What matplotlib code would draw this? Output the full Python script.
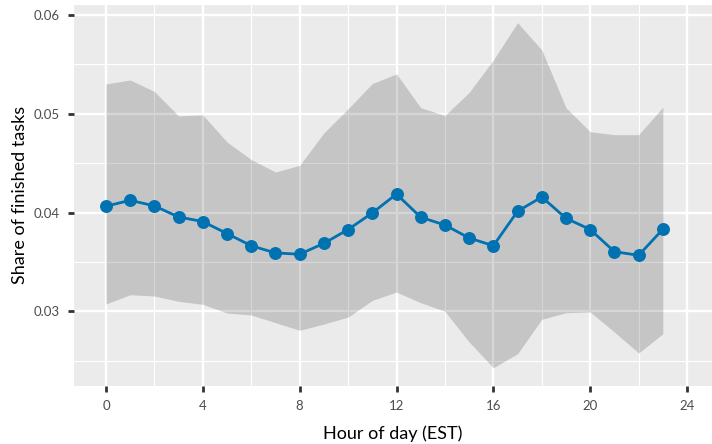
import matplotlib
matplotlib.use("Agg")
import matplotlib.pyplot as plt
import numpy as np
from matplotlib.ticker import MultipleLocator

hours = list(range(24))
share = [0.04064, 0.04124, 0.04067, 0.03955, 0.03909, 0.03787, 0.03664, 0.03591,
         0.03578, 0.03688, 0.03828, 0.03996, 0.04187, 0.03952, 0.03874, 0.03742,
         0.03664, 0.04013, 0.04157, 0.03942, 0.03828, 0.03604, 0.03567, 0.03831]
upper = [0.05302, 0.05342, 0.05226, 0.04978, 0.04988, 0.04714, 0.04536, 0.04410,
         0.04478, 0.04806, 0.05050, 0.05306, 0.05403, 0.05061, 0.04983, 0.05216,
         0.05545, 0.05922, 0.05646, 0.05061, 0.04818, 0.04788, 0.04788, 0.05067]
lower = [0.03074, 0.03168, 0.03155, 0.03101, 0.03071, 0.02983, 0.02963, 0.02885,
         0.02808, 0.02871, 0.02942, 0.03111, 0.03195, 0.03087, 0.03000, 0.02689,
         0.02429, 0.02571, 0.02919, 0.02986, 0.02993, 0.02790, 0.02578, 0.02773]
x_ticks = [0, 4, 8, 12, 16, 20, 24]
y_ticks = [0.03, 0.04, 0.05, 0.06]
y_ticklabels = ["0.03", "0.04", "0.05", "0.06"]

plt.rcParams['font.family'] = ['Lato', 'DejaVu Sans']

fig = plt.figure(figsize=(7.12, 4.44), dpi=100)
W, H = 712, 444
ax = fig.add_axes([74 / W, (H - 385.7) / H, (712 - 74) / W, (385.7 - 5) / H])
ax.set_facecolor('#EBEBEB')

ax.set_xlim(-1.32, 25.03)
ax.set_ylim(0.02247, 0.06101)

ax.set_xticks(x_ticks)
ax.set_yticks(y_ticks)
ax.set_yticklabels(y_ticklabels)
ax.xaxis.set_minor_locator(MultipleLocator(2))
ax.yaxis.set_minor_locator(MultipleLocator(0.005))
ax.grid(which='major', color='white', linewidth=1.7)
ax.grid(which='minor', color='white', linewidth=0.8)
ax.set_axisbelow(True)
for s in ax.spines.values():
    s.set_visible(False)
ax.tick_params(which='major', length=4, width=2.0, color='#333333',
               labelcolor='#4D4D4D', labelsize=9.5, pad=6)
ax.tick_params(which='minor', length=0)

ax.fill_between(hours, lower, upper, color='black', alpha=0.16, linewidth=0, zorder=2)
ax.plot(hours, share, color='#0072B2', linewidth=2.0, marker='o', markersize=8.3,
        zorder=3)

ax.set_xlabel('Hour of day (EST)', fontsize=13, color='black', labelpad=10)
ax.set_ylabel('Share of finished tasks', fontsize=13, color='black', labelpad=4)

fig.savefig('out.png', dpi=100)
